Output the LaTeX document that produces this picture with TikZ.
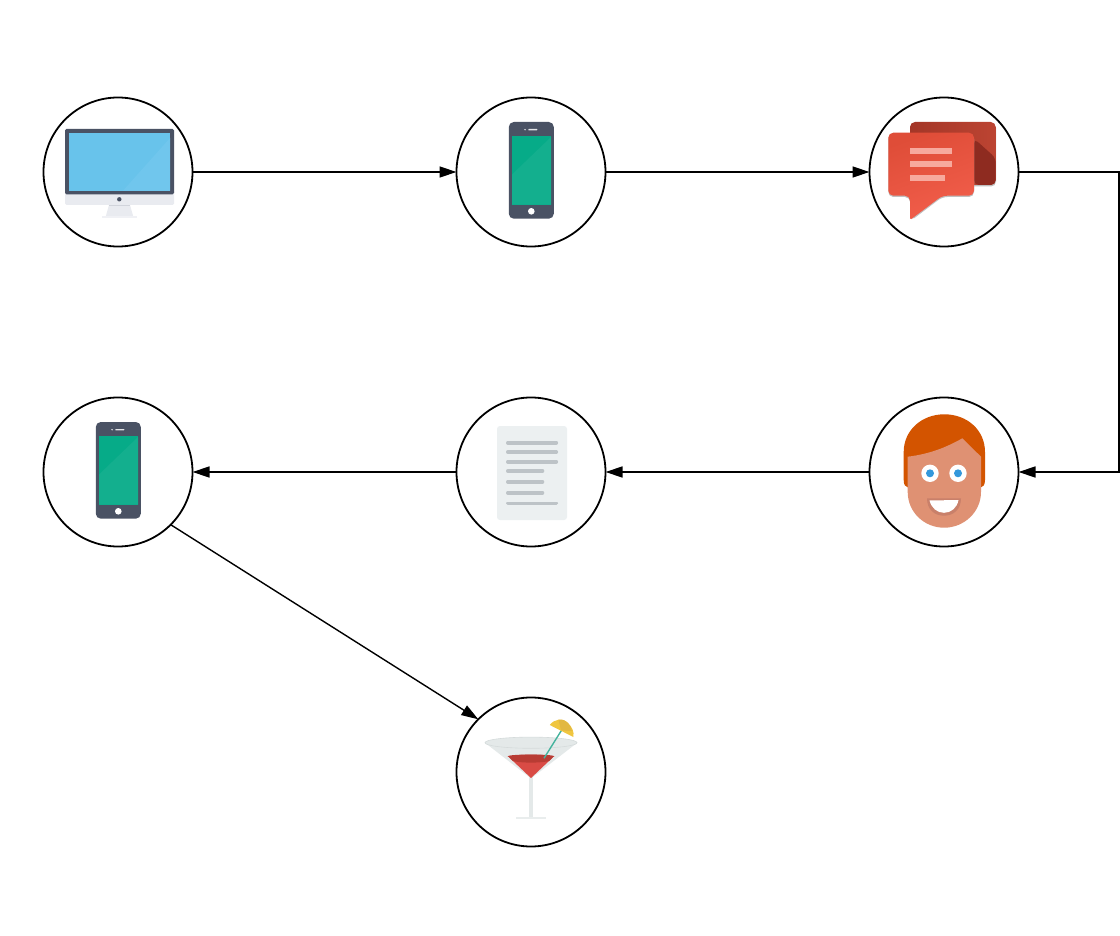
\documentclass[tikz,border=0pt]{standalone}
\usetikzlibrary{arrows.meta}
\definecolor{monframe}{HTML}{4A5264}
\definecolor{monscreen}{HTML}{68C3EB}
\definecolor{monlight}{HTML}{70C6ED}
\definecolor{monchin}{HTML}{E9EBF0}
\definecolor{phonescreen}{HTML}{06AB88}
\definecolor{phonelight}{HTML}{13AF8E}
\definecolor{chatback}{HTML}{B23B2B}
\definecolor{chatbackb}{HTML}{BC4432}
\definecolor{chatdark}{HTML}{8E2B20}
\definecolor{chatfronta}{HTML}{DF4D38}
\definecolor{chatfrontb}{HTML}{F25E4B}
\definecolor{chatline}{HTML}{F7A99D}
\definecolor{hair}{HTML}{D35400}
\definecolor{skin}{HTML}{DF9173}
\definecolor{mouthc}{HTML}{C9806A}
\definecolor{iris}{HTML}{3498DB}
\definecolor{paper}{HTML}{ECF0F1}
\definecolor{ink}{HTML}{BDC3C7}
\definecolor{glass}{HTML}{E4E9E9}
\definecolor{glassrim}{HTML}{D5DBDB}
\definecolor{drink}{HTML}{D94B45}
\definecolor{drinkdark}{HTML}{B83C34}
\definecolor{straw}{HTML}{45B39D}
\definecolor{lemon}{HTML}{F0C63F}
\definecolor{lemondark}{HTML}{E2B842}
\tikzset{
  hub/.style={circle,draw=black,line width=1.8pt,minimum size=149pt,inner sep=0pt,outer sep=0pt,fill=none},
  flow/.style={draw=black,line width=1.4pt,-{Triangle[length=17pt,width=11pt]}},
  inkline/.style={line width=3.6pt,draw=ink,line cap=round},
  chatbar/.style={fill=chatline}
}
\newcommand{\phoneicon}[2]{%
  \begin{scope}[shift={(#1,#2)}]
    \fill[monframe,rounded corners=5pt] (-22.5,-50) rectangle (22.5,46.7);
    \fill[phonescreen] (-19.3,-36) rectangle (19.7,32.7);
    \fill[phonelight] (19.7,-35) -- (-19.3,2.5) -- (-19.3,32.7) -- (19.7,32.7) -- cycle;
    \fill[white!85!monframe,rounded corners=0.5pt] (-3,-43) rectangle (6,-41.6);
    \fill[white!85!monframe] (-6.3,-42.3) circle (0.8);
    \fill[white] (0,39.3) circle (3.3);
  \end{scope}}
\begin{document}
\begin{tikzpicture}[x=1pt,y=-1pt]
\useasboundingbox (0,0) rectangle (1120,936);
\fill[white] (0,0) rectangle (1120,936);
% hubs
\node[hub] (mon) at (118,172) {};
\node[hub] (ph1) at (531,172) {};
\node[hub] (chat) at (944,172) {};
\node[hub] (ph2) at (118,472) {};
\node[hub] (doc) at (531,472) {};
\node[hub] (face) at (944,472) {};
\node[hub] (glassn) at (531,772) {};
\coordinate (ctop) at (1119,172);
\coordinate (cbot) at (1119,472);
% connectors
\draw[flow] (mon) -- (ph1);
\draw[flow] (ph1) -- (chat);
\draw[flow] (chat.east) -- (ctop) -- (cbot) -- (face.east);
\draw[flow] (face) -- (doc);
\draw[flow] (doc) -- (ph2);
\draw[flow] (ph2.south east) -- (glassn.north west);
% monitor icon
\fill[monchin,rounded corners=1.5pt] (65,190) rectangle (174,205);
\fill[monframe,rounded corners=1.5pt] (65,129) -- (174,129) -- (174,194.3) -- (65,194.3) -- cycle;
\fill[monscreen] (69,133.3) rectangle (170,190.7);
\fill[monlight] (170,138) -- (123,190.7) -- (170,190.7) -- cycle;
\fill[monframe] (119.3,199.3) circle (2.2);
\fill[monchin] (109,205) -- (130,205) -- (133.3,216.7) -- (105.7,216.7) -- cycle;
\fill[monchin!70!white] (101.7,216.3) rectangle (137.3,217.7);
\fill[monchin!85!monframe] (108.9,205) rectangle (130.1,206.5);
% phones
\phoneicon{531.3}{172}
\phoneicon{118.3}{472}
% chat icon
\fill[gray!50,rounded corners=5pt] (910,123) rectangle (996,186.5);
\shade[rounded corners=5pt,left color=chatback!92!black,right color=chatbackb] (910,122) rectangle (995.7,185);
\fill[chatdark,rounded corners=5pt] (974,138.5) -- (995.7,158) -- (995.7,185) -- (974,185) -- cycle;
\fill[gray!50,rounded corners=5pt] (888.3,134) -- (974,134) -- (974,197) -- (942.3,197) -- (910.6,221) -- (910,197) -- (888.3,197) -- cycle;
\shade[left color=chatfronta,right color=chatfrontb,shading angle=20]
  [rounded corners=5pt] (888.3,132.7) -- (974,132.7) -- (974,195.7) -- (942.3,195.7) [rounded corners=1.5pt] -- (910,220) [rounded corners=5pt] -- (910,195.7) -- (888.3,195.7) -- cycle;
\fill[chatbar] (910,147.7) rectangle (952,153.7);
\fill[chatbar] (910,161.3) rectangle (952,167.3);
\fill[chatbar] (910,175) rectangle (945,181);
% face icon
\fill[hair] (903.7,480) -- (903.7,452) .. controls (903.7,430) and (922,414.3) .. (944.3,414.3) .. controls (967,414.3) and (985,430) .. (985,452) -- (985,480) .. controls (985,485) and (983,487) .. (981,487.3) -- (907.7,487.3) .. controls (905.5,487) and (903.7,485) .. cycle;
\fill[skin] (907.7,456.7) .. controls (930,454) and (947,447) .. (962.3,438.3) -- (981,456.7) -- (981,492) .. controls (981,512) and (964,527.7) .. (944.3,527.7) .. controls (924,527.7) and (907.7,512) .. (907.7,492) -- cycle;
\fill[white] (930,473.3) circle (8.7);
\fill[white] (958,473.3) circle (8.7);
\fill[iris] (930,473.3) circle (4);
\fill[iris] (958,473.3) circle (4);
\fill[mouthc] (927,498.3) -- (961,498.3) .. controls (961,509) and (954,515.7) .. (944,515.7) .. controls (934,515.7) and (927,509) .. cycle;
\fill[white] (929.5,500.5) -- (958.5,500) .. controls (957,508) and (951,512.8) .. (944,512.8) .. controls (937,512.8) and (931.5,508) .. cycle;
% document icon
\fill[paper,rounded corners=3pt] (497,426) rectangle (567,520);
\foreach \yy/\xx in {442.7/556.3,452/556.3,461.7/556.3,471/542.5,481.7/542.5,492.7/542.5,503.3/556.3}
  \draw[inkline] (507.8,\yy) -- (\xx,\yy);
% cocktail icon
\fill[glass] (528.7,775) rectangle (533.3,817.5);
\fill[glass!80!white] (515.7,816.7) rectangle (546,819);
\fill[glass] (485,742.7) -- (531,778.5) -- (577.3,742.7) -- cycle;
\fill[glass,draw=glassrim,line width=0.6pt] (531,742.7) ellipse (46 and 5.6);
\fill[drink] (507.7,756) -- (531,778) -- (554.3,756) -- cycle;
\begin{scope}
  \clip (507.7,756) -- (531,778) -- (554.3,756) -- (554.3,740) -- (507.7,740) -- cycle;
  \fill[drinkdark] (531,758.6) ellipse (23.3 and 4);
\end{scope}
\fill[drinkdark] (531,756.3) ellipse (23.3 and 1.8);
\draw[straw,line width=1.4pt] (544,758.3) -- (561.7,730);
\fill[lemon] (549.8,725) .. controls (554,719) and (563,717.5) .. (568,723) .. controls (572,727) and (574.5,732) .. (573.3,737) -- cycle;
\fill[lemondark] (561,730.5) -- (558.5,719.5) .. controls (563,719) and (566,721) .. (568,723) .. controls (570,725.5) and (571.5,728) .. (572,731) -- cycle;
\end{tikzpicture}
\end{document}
